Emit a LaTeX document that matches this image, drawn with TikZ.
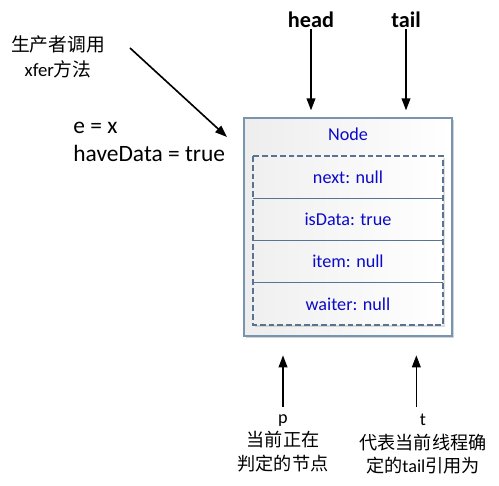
\documentclass[tikz,border=0pt]{standalone}
\usepackage{fontspec}
\setmainfont{Carlito}
\newfontfamily\cjk{Noto Sans CJK SC}
\usepackage{xcolor}
\definecolor{fieldblue}{RGB}{10, 10, 200}
\definecolor{frameslate}{RGB}{120, 148, 176}
\definecolor{rowslate}{RGB}{88, 116, 146}
\usepackage{tikz}
\usetikzlibrary{
    arrows.meta,
    positioning,
    shadows
}

\begin{document}
\begin{tikzpicture}[
    x=0.03cm, y=-0.03cm,
    >={Triangle[length=3.6mm, width=2.6mm]},
    pointer/.style={->, line width=1.4pt, black},
    refname/.style={font=\fontsize{19}{22}\selectfont\bfseries, inner sep=1pt},
    note/.style={font=\fontsize{15.5}{20}\selectfont, inner sep=1pt, align=center},
    nodebox/.style={draw=frameslate, line width=1pt, left color=black!7, right color=white,
                    drop shadow={shadow xshift=2pt, shadow yshift=-2pt, opacity=0.35},
                    minimum width=6.24cm, minimum height=6.54cm},
    fieldrow/.style={minimum width=5.7cm, minimum height=1.267cm, inner sep=0pt,
                     text=fieldblue, font=\fontsize{15.5}{18}\selectfont}
]
\useasboundingbox (0,0) rectangle (499,486);

% ==================== QUEUE NODE ====================
\node[nodebox] (qnode) at (348,227) {};
\node[fieldrow, minimum height=0pt] (title) at (348,134) {Node};

\draw[dash pattern=on 5pt off 2.5pt, draw=rowslate, line width=0.9pt, left color=black!6, right color=white,
      drop shadow={shadow xshift=1.5pt, shadow yshift=-1.5pt, opacity=0.25}]
    (253,156) rectangle (443,325);

\foreach \k/\ypos/\txt in {
    1/177.1/{next: null},
    2/219.4/{isData: true},
    3/261.6/{item: null},
    4/303.9/{waiter: null}
} {
    \node[fieldrow] (row\k) at (348,\ypos) {\txt};
}
\foreach \k in {1,2,3} {
    \draw[rowslate, line width=0.9pt] (row\k.south west) -- (row\k.south east);
}

% ==================== HEAD / TAIL ====================
\node[refname] (head) at (311,20) {head};
\node[refname] (tail) at (406,20) {tail};
\draw[pointer, shorten >=6pt] (head.south) -- (head.south |- qnode.north);
\draw[pointer, shorten >=6pt] (tail.south) -- (tail.south |- qnode.north);

% ==================== PRODUCER CALL ====================
\node[note, font=\fontsize{16}{21.5}\selectfont] (caller) at (58,57) {{\cjk 生产者调用}\\xfer{\cjk 方法}};
\node[note, anchor=west, align=left, font=\fontsize{20}{24}\selectfont] (state) at (72,142) {e = x\\haveData = true};
\coordinate (callfrom) at (130,48);
\coordinate (callto) at (227,137);
\draw[pointer] (callfrom) -- (callto);

% ==================== LOCAL REFERENCES ====================
\node[note, anchor=north] (plabel) at (283,413) {p\\{\cjk 当前正在}\\{\cjk 判定的节点}};
\node[note, anchor=north] (tlabel) at (423,413) {t\\{\cjk 代表当前线程确}\\{\cjk 定的}tail{\cjk 引用为}};
\draw[pointer, shorten >=16pt] ([yshift=5pt]plabel.north) -- (plabel.north |- qnode.south);
\draw[pointer, shorten >=16pt] ([xshift=-0.2cm, yshift=5pt]tlabel.north) -- ([xshift=-0.2cm]tlabel.north |- qnode.south);

\end{tikzpicture}
\end{document}
